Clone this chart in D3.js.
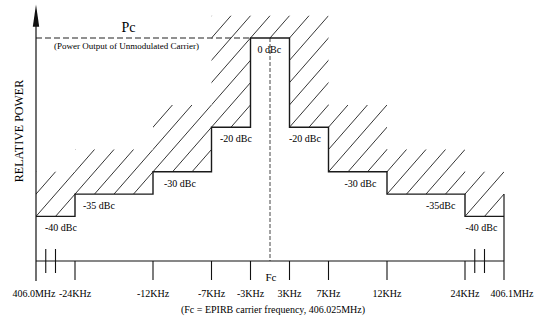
<!DOCTYPE html>
<html>
<head>
<meta charset="utf-8">
<script src="https://cdn.jsdelivr.net/npm/d3@7"></script>
<style>
  html, body { margin: 0; padding: 0; background: #fff; }
  svg { display: block; }
</style>
</head>
<body>
<svg id="chart" width="537" height="322"></svg>
<script>
// ---------------- data ----------------
const tickLabels = ["406.0MHz", "-24KHz", "-12KHz", "-7KHz", "-3KHz", "Fc", "3KHz", "7KHz", "12KHz", "24KHz", "406.1MHz"];
const tickKHz    = [-25, -24, -12, -7, -3, 0, 3, 7, 12, 24, 75];          // offset from Fc (406.025 MHz)
const maskEdgesKHz  = [-25, -24, -12, -7, -3, 3, 7, 12, 24, 75];
const maskLevelsDbc = [-40, -35, -30, -20, 0, -20, -30, -35, -40];
const maskLabels    = ["-40 dBc", "-35 dBc", "-30 dBc", "-20 dBc", "0 dBc", "-20 dBc", "-30 dBc", "-35dBc", "-40 dBc"];
const pcLabel = "Pc";
const pcNote = "(Power Output of Unmodulated Carrier)";
const yTitle = "RELATIVE POWER";
const caption = "(Fc = EPIRB carrier frequency, 406.025MHz)";

// ---------------- layout ----------------
const FONT = "Liberation Serif";
const axisUnits = [-12, -10, -6, -3, -1, 0, 1, 3, 6, 10, 12];   // schematic (non-linear) axis spacing
const left = 36, right = 504, unitPx = (right - left) / 24;
const x = d3.scaleLinear().domain(tickKHz).range(axisUnits.map(u => left + (u + 12) * unitPx));
const y = d3.scaleLinear().domain([-50, 0]).range([261, 38]);
const labelDx = [9, 8, 11, 8.5, 7, -0.5, 16, 39, 0.5];

const svg = d3.select("#chart");
const ink = "#111";

function txt(s, px, py, size, anchor, rotate) {
  return svg.append("text")
    .attr("transform", `translate(${px},${py})` + (rotate ? ` rotate(${rotate})` : ""))
    .attr("text-anchor", anchor || "start")
    .attr("font-family", FONT)
    .attr("font-size", size + "px")
    .attr("fill", "#000")
    .text(s);
}

// ---------------- hatch region ----------------
const cols = maskLevelsDbc.map((lv, i) => {
  const top = Math.max(lv, maskLevelsDbc[i - 1] ?? -99, maskLevelsDbc[i + 1] ?? -99) + 5;
  return { x0: x(maskEdgesKHz[i]), x1: x(maskEdgesKHz[i + 1]), y0: y(top), y1: y(lv) };
});
const clip = svg.append("clipPath").attr("id", "hatchClip");
clip.selectAll("rect").data(cols).join("rect")
  .attr("x", d => d.x0).attr("y", d => d.y0)
  .attr("width", d => d.x1 - d.x0).attr("height", d => d.y1 - d.y0);

const slope = (y(-40) - y(-35)) / unitPx;   // 5 dB rise per unit
const x0 = x(-25), yRef = y(-40);
const hatch = svg.append("g").attr("clip-path", "url(#hatchClip)");
const ks = d3.range(-20, 40);
hatch.selectAll("line").data(ks).join("line")
  .attr("x1", k => x0 + k * unitPx - 300)
  .attr("y1", k => yRef + 300 * slope)
  .attr("x2", k => x0 + k * unitPx + 300)
  .attr("y2", k => yRef - 300 * slope)
  .attr("stroke", ink).attr("stroke-width", 0.85);

// ---------------- Pc dashed line & Fc dashed line ----------------
svg.append("line")
  .attr("x1", x(-25)).attr("x2", x(-3)).attr("y1", y(0)).attr("y2", y(0))
  .attr("stroke", "#222").attr("stroke-width", 1.1).attr("stroke-dasharray", "6,3");
svg.append("line")
  .attr("x1", x(0)).attr("x2", x(0)).attr("y1", y(0)).attr("y2", y(-50))
  .attr("stroke", "#444").attr("stroke-width", 1).attr("stroke-dasharray", "4,2");

// ---------------- mask outline ----------------
const stepPts = maskEdgesKHz.map((e, i) => [x(e), y(maskLevelsDbc[Math.min(i, maskLevelsDbc.length - 1)])]);
svg.append("path")
  .attr("d", d3.line().curve(d3.curveStepAfter)(stepPts))
  .attr("fill", "none").attr("stroke", "#1a1a1a").attr("stroke-width", 1.4);
svg.append("line")
  .attr("x1", x(75)).attr("x2", x(75)).attr("y1", y(-50)).attr("y2", y(-35))
  .attr("stroke", "#1a1a1a").attr("stroke-width", 1.2);

// ---------------- axes ----------------
svg.append("line")
  .attr("x1", left).attr("x2", left).attr("y1", y(4)).attr("y2", 281)
  .attr("stroke", ink).attr("stroke-width", 1.2);
svg.append("path")
  .attr("d", `M${left},${y(7.5)} L${left - 3.2},${y(2.5)} L${left + 3.2},${y(2.5)} Z`)
  .attr("fill", ink);

svg.append("line")
  .attr("x1", x(-25)).attr("x2", x(75)).attr("y1", y(-50)).attr("y2", y(-50))
  .attr("stroke", ink).attr("stroke-width", 1.2);
const tickIdx = tickKHz.map((t, i) => i).filter(i => tickKHz[i] !== 0 && i !== 0);
svg.selectAll(".tick").data(tickIdx).join("line").attr("class", "tick")
  .attr("x1", i => x(tickKHz[i])).attr("x2", i => x(tickKHz[i]))
  .attr("y1", y(-50)).attr("y2", 280)
  .attr("stroke", ink).attr("stroke-width", 1.1);

const breaks = [
  x(-25) + (x(-24) - x(-25)) * 0.25, x(-25) + (x(-24) - x(-25)) * 0.5,
  x(24) + (x(75) - x(24)) * 0.25, x(24) + (x(75) - x(24)) * 0.5
];
svg.selectAll(".brk").data(breaks).join("line").attr("class", "brk")
  .attr("x1", d => d).attr("x2", d => d).attr("y1", 249).attr("y2", 273)
  .attr("stroke", ink).attr("stroke-width", 1.1);

tickLabels.forEach((lab, i) => {
  if (tickKHz[i] === 0) {
    txt(lab, x(0) + 1, 281, 11, "middle");
  } else {
    const dx = i === tickLabels.length - 1 ? 8 : (i === 0 ? -2 : 0);
    txt(lab, x(tickKHz[i]) + dx, 297, 10, "middle");
  }
});

maskLabels.forEach((lab, i) => {
  txt(lab, x(maskEdgesKHz[i]) + labelDx[i], y(maskLevelsDbc[i]) + 15, 10);
});

txt(pcLabel, 128.5, 32, 14, "middle");
txt(pcNote, 54, 49, 9);

txt(yTitle, 23, 131, 12, "middle", -90);

txt(caption, 273, 313, 10, "middle");
</script>
</body>
</html>
